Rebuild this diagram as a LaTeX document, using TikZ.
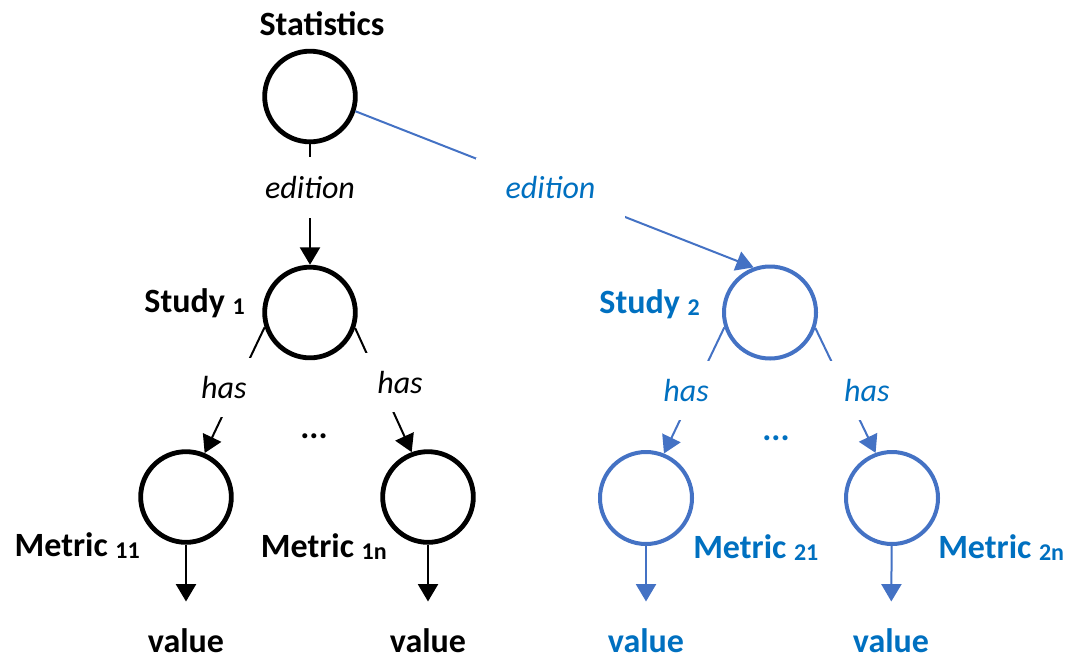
\documentclass[tikz,border=0pt]{standalone}
\usepackage{fontspec}
\setmainfont{Carlito}
\usetikzlibrary{arrows.meta}
\definecolor{linkblue}{HTML}{4472C4}
\definecolor{textblue}{HTML}{0070C0}
\newcommand{\idx}[1]{\raisebox{-2pt}{\fontsize{18}{20}\selectfont #1}}

\begin{document}
\begin{tikzpicture}[x=0.75pt,y=0.75pt,yscale=-1,xscale=1,
  ent/.style={circle, draw, line width=3.6pt, minimum size=68pt, inner sep=0pt},
  bent/.style={ent, draw=linkblue, line width=3pt, minimum size=69pt},
  conn/.style={line width=1.5pt, -{Triangle[width=15pt,length=13pt]}},
  rel/.style={fill=white, inner sep=0pt, minimum width=56pt, minimum height=44pt, font=\fontsize{24}{28}\selectfont\itshape},
  lbl/.style={inner sep=0pt, font=\fontsize{25.5}{30}\selectfont\bfseries},
  val/.style={lbl, anchor=base, outer sep=20pt}]
\useasboundingbox (0,0) rectangle (1073,654);

% Circles
\node[ent] (stats) at (310,96.5) {};
\node[ent] (s1) at (310,312.5) {};
\node[ent] (m11) at (186,497) {};
\node[ent] (m1n) at (428,497) {};
\node[bent] (s2) at (770,312.5) {};
\node[bent] (m21) at (646,498) {};
\node[bent] (m2n) at (892,498) {};

% Text Node
\node[lbl, anchor=base] (statslbl) at (322,35) {Statistics};
\node[lbl, anchor=base east] (s1lbl) at (245,312) {Study \idx{1}};
\node[lbl, anchor=base east] (m11lbl) at (140,556) {Metric \idx{11}};
\node[lbl, anchor=base east] (m1nlbl) at (387,557) {Metric \idx{1n}};
\node[lbl, anchor=base east, text=textblue] (s2lbl) at (700,313) {Study \idx{2}};
\node[lbl, anchor=base west, text=textblue] (m21lbl) at (693,558) {Metric \idx{21}};
\node[lbl, anchor=base west, text=textblue] (m2nlbl) at (938,558) {Metric \idx{2n}};
\node[lbl, anchor=base] (dots1) at (314,438) {...};
\node[lbl, anchor=base, text=textblue] (dots2) at (776,440) {...};
\node[val] (v11) at (186,652) {value};
\node[val] (v1n) at (428,652) {value};
\node[val, text=textblue] (v21) at (646,652) {value};
\node[val, text=textblue] (v2n) at (891,652) {value};

%Straight Lines
\draw[conn] (stats.south) -- node[rel, pos=0.36, minimum height=46pt] {edition} (s1.north);
\draw[conn, linkblue] (stats.342) -- node[rel, pos=0.49, minimum width=112pt, minimum height=45pt, text=textblue] {edition} (s2.110);
\draw[conn] (s1.198) -- node[rel, pos=0.48, xshift=-9pt] {has} (m11.67);
\draw[conn] (s1.341) -- node[rel, pos=0.44, xshift=15pt] {has} (m1n.110);
\draw[conn, linkblue] (s2.198) -- node[rel, pos=0.5, xshift=-6pt, text=textblue] {has} (m21.68);
\draw[conn, linkblue] (s2.341) -- node[rel, pos=0.5, xshift=16pt, text=textblue] {has} (m2n.110);
\draw[conn] (m11) -- (v11);
\draw[conn] (m1n) -- (v1n);
\draw[conn, linkblue] (m21) -- (v21);
\draw[conn, linkblue] (m2n) -- (v2n);

\end{tikzpicture}
\end{document}
